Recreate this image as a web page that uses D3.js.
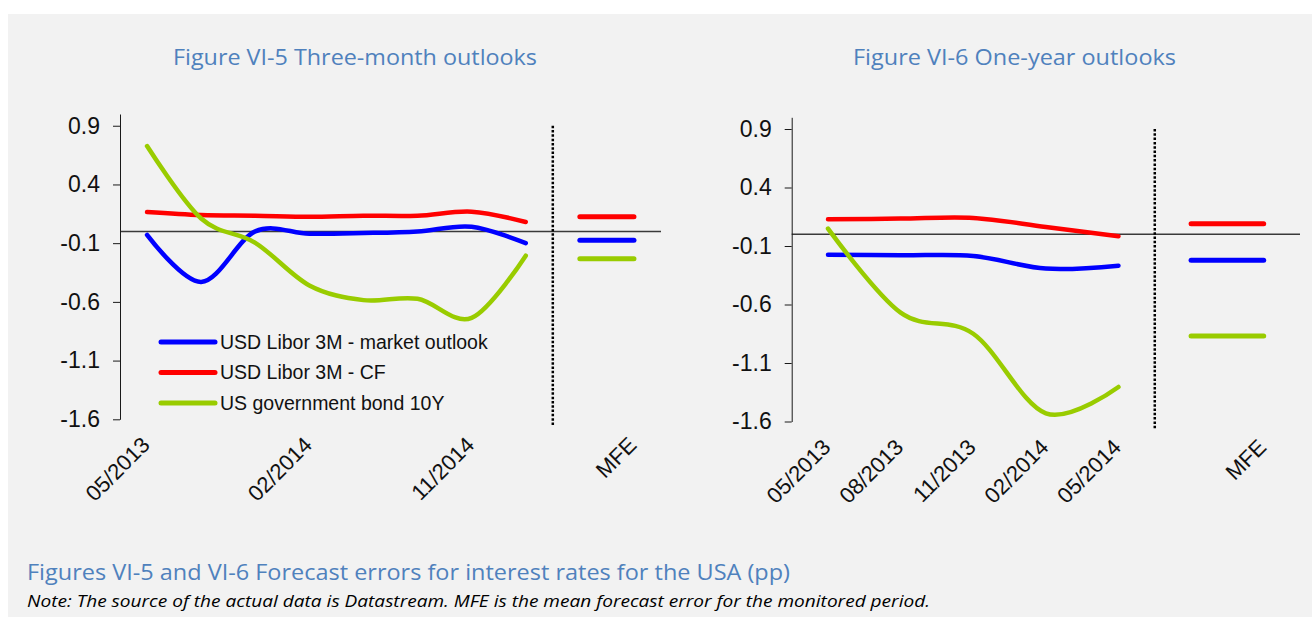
<!DOCTYPE html>
<html>
<head>
<meta charset="utf-8">
<script src="https://cdn.jsdelivr.net/npm/d3@7"></script>
<style>
  html, body { margin: 0; padding: 0; background: #ffffff; }
  svg { display: block; }
</style>
</head>
<body>
<script>
// ---- Data -------------------------------------------------------------
// Three-month outlooks: quarterly forecast errors, then a spare slot and the MFE slot
const catsThreeMonth = ["05/2013", "08/2013", "11/2013", "02/2014", "05/2014", "08/2014", "11/2014", "02/2015", "", "MFE"];
const marketThreeMonth = [-0.03, -0.43, 0.0, -0.02, -0.014, 0.0, 0.04, -0.10];
const cfThreeMonth     = [0.165, 0.139, 0.134, 0.125, 0.134, 0.134, 0.168, 0.08];
const bondThreeMonth   = [0.727, 0.11, -0.097, -0.46, -0.585, -0.574, -0.736, -0.207];
const mfeThreeMonth    = [-0.076, 0.125, -0.233];   // market, CF, bond

// One-year outlooks
const catsOneYear = ["05/2013", "08/2013", "11/2013", "02/2014", "05/2014", "", "MFE"];
const marketOneYear = [-0.174, -0.18, -0.185, -0.293, -0.268];
const cfOneYear     = [0.128, 0.134, 0.14, 0.063, -0.017];
const bondOneYear   = [0.048, -0.67, -0.85, -1.53, -1.305];
const mfeOneYear    = [-0.222, 0.09, -0.869];

const yTickValues = [0.9, 0.4, -0.1, -0.6, -1.1, -1.6];
const yDomain = [-1.6, 1.0];
const seriesNames = ["USD Libor 3M - market outlook", "USD Libor 3M - CF", "US government bond 10Y"];
const seriesColors = ["#0000ff", "#ff0000", "#99cc00"];

const titleThreeMonth = "Figure VI-5 Three-month outlooks";
const titleOneYear = "Figure VI-6 One-year outlooks";
const captionText = "Figures VI-5 and VI-6 Forecast errors for interest rates for the USA (pp)";
const noteText = "Note: The source of the actual data is Datastream. MFE is the mean forecast error for the monitored period.";

// ---- Page -------------------------------------------------------------
const W = 1312, H = 617;
const svg = d3.select("body").append("svg").attr("width", W).attr("height", H);

svg.append("rect").attr("x", 8).attr("y", 14).attr("width", W - 8).attr("height", H - 14)
  .attr("fill", "#f2f2f2");

const blue = "#4f81bd";
const axisFont = "'Liberation Sans', Arial, sans-serif";
const textFont = "'Open Sans', 'Noto Sans', sans-serif";

function fittedText(g, txt, x, y, size, len, opts = {}) {
  return g.append("text")
    .attr("x", x).attr("y", y)
    .attr("font-family", textFont)
    .attr("font-size", size)
    .attr("font-style", opts.italic ? "italic" : "normal")
    .attr("fill", opts.color || "#000")
    .attr("textLength", len)
    .attr("lengthAdjust", "spacingAndGlyphs")
    .text(txt);
}

fittedText(svg, titleThreeMonth, 173, 65, 22.5, 364, { color: blue });
fittedText(svg, titleOneYear, 853, 65, 22.5, 323, { color: blue });
fittedText(svg, captionText, 27, 580, 22, 763, { color: blue });
fittedText(svg, noteText, 27, 607, 17, 903, { italic: true, color: "#000" });

// ---- One panel ----------------------------------------------------------
function drawPanel(cfg) {
  const g = svg.append("g");
  const x = d3.scaleBand().domain(d3.range(cfg.cats.length)).range([cfg.left, cfg.right]).paddingInner(0).paddingOuter(0);
  const cx = i => x(i) + x.bandwidth() / 2;
  const y = d3.scaleLinear().domain(yDomain).range([cfg.bottom, cfg.top]);
  const nDates = cfg.series[0].length;

  // zero line
  g.append("line")
    .attr("x1", cfg.left).attr("x2", cfg.right)
    .attr("y1", y(0)).attr("y2", y(0))
    .attr("stroke", "#3a3a3a").attr("stroke-width", 1.5);

  // dotted divider before the MFE slots
  const xDiv = x(nDates);
  g.append("line")
    .attr("x1", xDiv).attr("x2", xDiv)
    .attr("y1", y(0.9)).attr("y2", y(-1.6) + 7)
    .attr("stroke", "#000").attr("stroke-width", 2.5)
    .attr("stroke-dasharray", "2.5,1.8");

  // y axis
  const yAxis = d3.axisLeft(y)
    .tickValues(yTickValues)
    .tickSize(7)
    .tickSizeOuter(0)
    .tickPadding(13)
    .tickFormat(d => d.toFixed(1));
  const ya = g.append("g").attr("transform", `translate(${cfg.left},0)`).call(yAxis);
  ya.select(".domain").attr("stroke", "#1a1a1a").attr("stroke-width", 1);
  ya.selectAll(".tick line").attr("stroke", "#1a1a1a").attr("stroke-width", 1);
  ya.selectAll(".tick text")
    .attr("font-family", axisFont).attr("font-size", 23).attr("fill", "#111");

  // series lines
  const line = d3.line()
    .x((d, i) => cx(i))
    .y(d => y(d))
    .curve(d3.curveCatmullRom.alpha(0));
  cfg.series.forEach((vals, k) => {
    g.append("path")
      .datum(vals)
      .attr("d", line)
      .attr("fill", "none")
      .attr("stroke", seriesColors[k])
      .attr("stroke-width", 4.5)
      .attr("stroke-linecap", "round")
      .attr("stroke-linejoin", "round");
  });

  // MFE bars across the two trailing slots
  const n = cfg.cats.length;
  cfg.mfe.forEach((v, k) => {
    g.append("line")
      .attr("x1", cx(n - 2)).attr("x2", cx(n - 1))
      .attr("y1", y(v)).attr("y2", y(v))
      .attr("stroke", seriesColors[k])
      .attr("stroke-width", 5)
      .attr("stroke-linecap", "round");
  });

  // category labels, rotated
  cfg.cats.forEach((c, i) => {
    if (!c || i % cfg.every !== 0) return;
    const px = cx(i) + 4, py = cfg.bottom + 27;
    g.append("text")
      .attr("transform", `translate(${px},${py}) rotate(-45)`)
      .attr("text-anchor", "end")
      .attr("font-family", axisFont)
      .attr("font-size", 22)
      .attr("fill", "#111")
      .text(c);
  });

  return { g, x, y };
}

const left = drawPanel({
  cats: catsThreeMonth,
  series: [marketThreeMonth, cfThreeMonth, bondThreeMonth],
  mfe: mfeThreeMonth,
  left: 120, right: 661, top: 114, bottom: 419.3, every: 3
});

drawPanel({
  cats: catsOneYear,
  series: [marketOneYear, cfOneYear, bondOneYear],
  mfe: mfeOneYear,
  left: 791.7, right: 1300, top: 117.3, bottom: 421.5, every: 1
});

// legend in the three-month panel
const legend = left.g.append("g").attr("transform", "translate(161,342)");
seriesNames.forEach((name, k) => {
  const row = legend.append("g").attr("transform", `translate(0,${k * 30.5})`);
  row.append("line")
    .attr("x1", 0).attr("x2", 54)
    .attr("stroke", seriesColors[k]).attr("stroke-width", 5)
    .attr("stroke-linecap", "round");
  row.append("text")
    .attr("x", 59).attr("y", 0).attr("dy", "0.35em")
    .attr("font-family", axisFont).attr("font-size", 19.5)
    .attr("fill", "#111")
    .text(name);
});
</script>
</body>
</html>
